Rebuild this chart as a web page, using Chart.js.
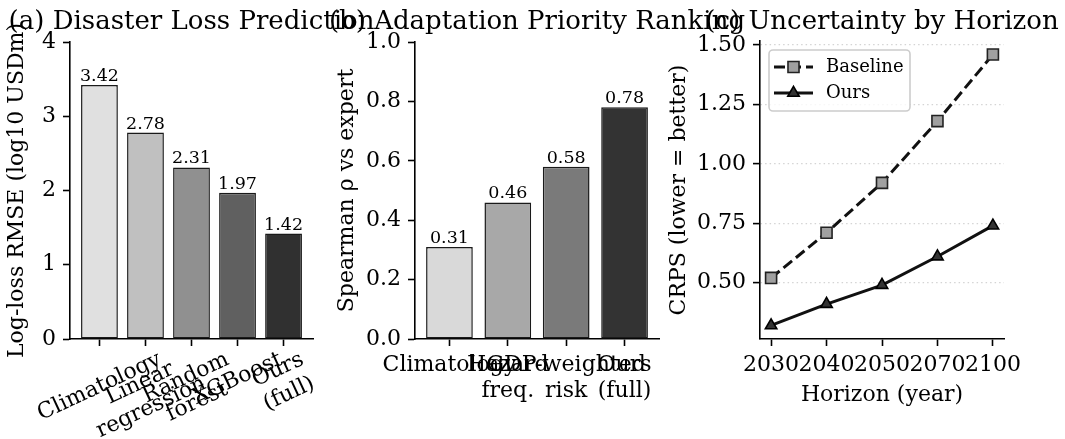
<!DOCTYPE html>
<html>
<head>
<meta charset="utf-8">
<script src="https://cdn.jsdelivr.net/npm/chart.js@4.4.0/dist/chart.umd.min.js"></script>
<style>
  body { margin: 0; background: #fff; }
  #wrap { position: relative; width: 1065px; height: 439px; overflow: hidden; }
  canvas { position: absolute; top: 0; }
</style>
</head>
<body>
<div id="wrap">
  <canvas id="lossChart"></canvas>
  <canvas id="rankChart"></canvas>
  <canvas id="crpsChart"></canvas>
</div>
<script>
// (a) disaster loss prediction
const lossModels = [['Climatology'], ['Linear', 'regression'], ['Random', 'forest'], ['XGBoost'], ['Ours', '(full)']];
const lossRmse = [3.42, 2.78, 2.31, 1.97, 1.42];
const lossTicks = [0, 1, 2, 3, 4];
const lossColors = ['#e0e0e0', '#c0c0c0', '#909090', '#606060', '#303030'];

// (b) adaptation priority ranking
const rankMethods = [['Climatology'], ['Hazard', 'freq.'], ['GDP-weighted', 'risk'], ['Ours', '(full)']];
const rankRho = [0.31, 0.46, 0.58, 0.78];
const rankTicks = [0, 0.2, 0.4, 0.6, 0.8, 1.0];
const rankColors = ['#d9d9d9', '#a8a8a8', '#7a7a7a', '#333333'];

// (c) uncertainty by horizon
const horizons = ['2030', '2040', '2050', '2070', '2100'];
const crpsBaseline = [0.52, 0.71, 0.92, 1.18, 1.46];
const crpsOurs = [0.32, 0.41, 0.49, 0.61, 0.74];
const crpsTicks = [0.50, 0.75, 1.00, 1.25, 1.50];

const SERIF = 'DejaVu Serif';
const H = 439;
const FS = 22; // tick + axis label size
Chart.defaults.font.family = SERIF;
Chart.defaults.font.size = FS;
Chart.defaults.color = '#000';
Chart.defaults.animation = false;
Chart.defaults.plugins.legend.display = false;
Chart.defaults.plugins.tooltip.enabled = false;

function marker(ctx, style, r, x, y) {
  ctx.beginPath();
  if (style === 'rect') {
    const s = Math.SQRT1_2 * r;
    ctx.rect(x - s, y - s, 2 * s, 2 * s);
  } else {
    ctx.moveTo(x, y - r);
    ctx.lineTo(x + Math.sin(2 * Math.PI / 3) * r, y + r / 2);
    ctx.lineTo(x - Math.sin(2 * Math.PI / 3) * r, y + r / 2);
    ctx.closePath();
  }
  ctx.fill();
  ctx.stroke();
}

// titles, y labels, bar values, rotated ticks and legend
const annot = {
  id: 'annot',
  afterDraw(chart, args, o) {
    const ctx = chart.ctx, a = chart.chartArea;
    ctx.save();
    ctx.fillStyle = '#000';
    ctx.textBaseline = 'alphabetic';
    ctx.textAlign = 'center';
    ctx.font = '26px "' + SERIF + '"';
    ctx.fillText(o.title, (a.left + a.right) / 2, 29);

    ctx.save();
    ctx.translate(o.yTitleX, (a.top + a.bottom) / 2);
    ctx.rotate(-Math.PI / 2);
    ctx.font = FS + 'px "' + SERIF + '"';
    ctx.fillText(o.yTitle, 0, 0);
    ctx.restore();

    if (o.values) {
      ctx.font = '17.5px "' + SERIF + '"';
      chart.getDatasetMeta(0).data.forEach((bar, i) => {
        ctx.fillText(o.values[i].toFixed(2), bar.x, bar.y - 4);
      });
    }

    if (o.rotLabels) {
      const xs = chart.scales.x, th = 25 * Math.PI / 180, fs = FS, lh = fs * 1.2;
      ctx.font = fs + 'px "' + SERIF + '"';
      ctx.textBaseline = 'middle';
      o.rotLabels.forEach((lines, i) => {
        const w = Math.max(...lines.map(l => ctx.measureText(l).width));
        const h = (lines.length - 1) * lh + fs * 1.16;
        const bh = w * Math.sin(th) + h * Math.cos(th);
        ctx.save();
        ctx.translate(xs.getPixelForValue(i), a.bottom + 8 + bh / 2);
        ctx.rotate(-th);
        lines.forEach((l, j) => ctx.fillText(l, 0, (j - (lines.length - 1) / 2) * lh));
        ctx.restore();
      });
    }

    if (o.legend) {
      const bx = a.left + 9, by = a.top + 9;
      ctx.beginPath();
      ctx.roundRect(bx, by, 141, 61, 4);
      ctx.fillStyle = 'rgba(255,255,255,0.8)';
      ctx.fill();
      ctx.strokeStyle = '#cccccc';
      ctx.lineWidth = 1.6;
      ctx.stroke();
      chart.data.datasets.forEach((ds, i) => {
        const y = by + 17 + i * 26;
        ctx.beginPath();
        ctx.setLineDash(ds.borderDash || []);
        ctx.strokeStyle = ds.borderColor;
        ctx.lineWidth = ds.borderWidth;
        ctx.moveTo(bx + 5, y);
        ctx.lineTo(bx + 44, y);
        ctx.stroke();
        ctx.setLineDash([]);
        ctx.fillStyle = ds.pointBackgroundColor;
        ctx.strokeStyle = ds.pointBorderColor;
        ctx.lineWidth = ds.pointBorderWidth;
        marker(ctx, ds.pointStyle, ds.pointRadius, bx + 24.5, y);
        ctx.fillStyle = '#000';
        ctx.font = '18px "' + SERIF + '"';
        ctx.textAlign = 'left';
        ctx.textBaseline = 'middle';
        ctx.fillText(ds.label, bx + 57, y);
      });
    }
    ctx.restore();
  }
};

function axisStyle(extra) {
  return Object.assign({
    grid: { drawOnChartArea: false, tickLength: 7, tickColor: '#000', tickWidth: 1.6, offset: false },
    border: { color: '#000', width: 1.6 }
  }, extra);
}

function makeChart(id, L, W, area, cfg) {
  const cv = document.getElementById(id);
  cv.width = W; cv.height = H;
  cv.style.left = L + 'px';
  cv.style.width = W + 'px'; cv.style.height = H + 'px';
  cfg.options.responsive = false;
  cfg.options.layout = { padding: { left: 0, top: area.top, right: W - (area.right - L), bottom: 0 } };
  cfg.options.scales.x.afterFit = s => { s.height = H - area.bottom; };
  cfg.options.scales.y.afterFit = s => { s.width = area.left - L; };
  cfg.plugins = [annot];
  return new Chart(cv, cfg);
}

// (a)
makeChart('lossChart', 0, 400, { left: 70, right: 313, top: 42, bottom: 339 }, {
  type: 'bar',
  data: {
    datasets: [{
      data: lossRmse.map((v, i) => ({ x: i, y: v })),
      backgroundColor: lossColors,
      borderColor: '#1a1a1a',
      borderWidth: 1.5,
      borderSkipped: false,
      categoryPercentage: 1,
      barPercentage: 0.8
    }]
  },
  options: {
    scales: {
      x: axisStyle({
        type: 'linear', min: -0.64, max: 4.64, offset: false,
        afterBuildTicks: s => { s.ticks = lossRmse.map((_, i) => ({ value: i })); },
        ticks: { display: false }
      }),
      y: axisStyle({
        min: 0, max: 4,
        afterBuildTicks: s => { s.ticks = lossTicks.map(v => ({ value: v })); },
        ticks: { padding: 7, callback: v => String(v) }
      })
    },
    plugins: {
      annot: { title: '(a) Disaster Loss Prediction', yTitle: 'Log-loss RMSE (log10 USDm)', yTitleX: 23, values: lossRmse, rotLabels: lossModels }
    }
  }
});

// (b)
makeChart('rankChart', 330, 420, { left: 415, right: 659, top: 42, bottom: 339 }, {
  type: 'bar',
  data: {
    datasets: [{
      data: rankRho.map((v, i) => ({ x: i, y: v })),
      backgroundColor: rankColors,
      borderColor: '#1a1a1a',
      borderWidth: 1.5,
      borderSkipped: false,
      categoryPercentage: 1,
      barPercentage: 0.8
    }]
  },
  options: {
    scales: {
      x: axisStyle({
        type: 'linear', min: -0.59, max: 3.59, offset: false,
        afterBuildTicks: s => { s.ticks = rankRho.map((_, i) => ({ value: i })); },
        ticks: { padding: 6, autoSkip: false, maxRotation: 0, minRotation: 0, callback: v => rankMethods[Math.round(v)] }
      }),
      y: axisStyle({
        min: 0, max: 1,
        afterBuildTicks: s => { s.ticks = rankTicks.map(v => ({ value: v })); },
        ticks: { padding: 7, callback: v => v.toFixed(1) }
      })
    },
    plugins: {
      annot: { title: '(b) Adaptation Priority Ranking', yTitle: 'Spearman ρ vs expert', yTitleX: 23, values: rankRho }
    }
  }
});

// (c)
makeChart('crpsChart', 660, 405, { left: 760, right: 1004, top: 41, bottom: 339 }, {
  type: 'line',
  data: {
    datasets: [{
      label: 'Baseline',
      data: crpsBaseline.map((v, i) => ({ x: i, y: v })),
      borderColor: '#111',
      borderWidth: 3,
      borderDash: [11, 5],
      pointStyle: 'rect',
      pointRadius: 7.8,
      pointBackgroundColor: '#a0a0a0',
      pointBorderColor: '#222',
      pointBorderWidth: 1.6,
      clip: false
    }, {
      label: 'Ours',
      data: crpsOurs.map((v, i) => ({ x: i, y: v })),
      borderColor: '#111',
      borderWidth: 3,
      pointStyle: 'triangle',
      pointRadius: 6.6,
      pointBackgroundColor: '#333333',
      pointBorderColor: '#000',
      pointBorderWidth: 1.6,
      clip: false
    }]
  },
  options: {
    scales: {
      x: axisStyle({
        type: 'linear', min: -0.2, max: 4.2,
        afterBuildTicks: s => { s.ticks = horizons.map((_, i) => ({ value: i })); },
        ticks: { padding: 6, autoSkip: false, maxRotation: 0, minRotation: 0, callback: v => horizons[Math.round(v)] },
        title: { display: true, text: 'Horizon (year)', font: { size: FS }, padding: { top: 0, bottom: 31 } }
      }),
      y: {
        min: 0.263, max: 1.517,
        afterBuildTicks: s => { s.ticks = crpsTicks.map(v => ({ value: v })); },
        ticks: { padding: 7, callback: v => v.toFixed(2) },
        grid: { drawOnChartArea: true, color: '#d4d4d4', lineWidth: 1.2, tickLength: 7, tickColor: '#000', tickWidth: 1.6, tickBorderDash: [] },
        border: { color: '#000', width: 1.6, dash: [1.5, 3] }
      }
    },
    plugins: {
      annot: { title: '(c) Uncertainty by Horizon', yTitle: 'CRPS (lower = better)', yTitleX: 25, legend: true }
    }
  }
});
</script>
</body>
</html>
